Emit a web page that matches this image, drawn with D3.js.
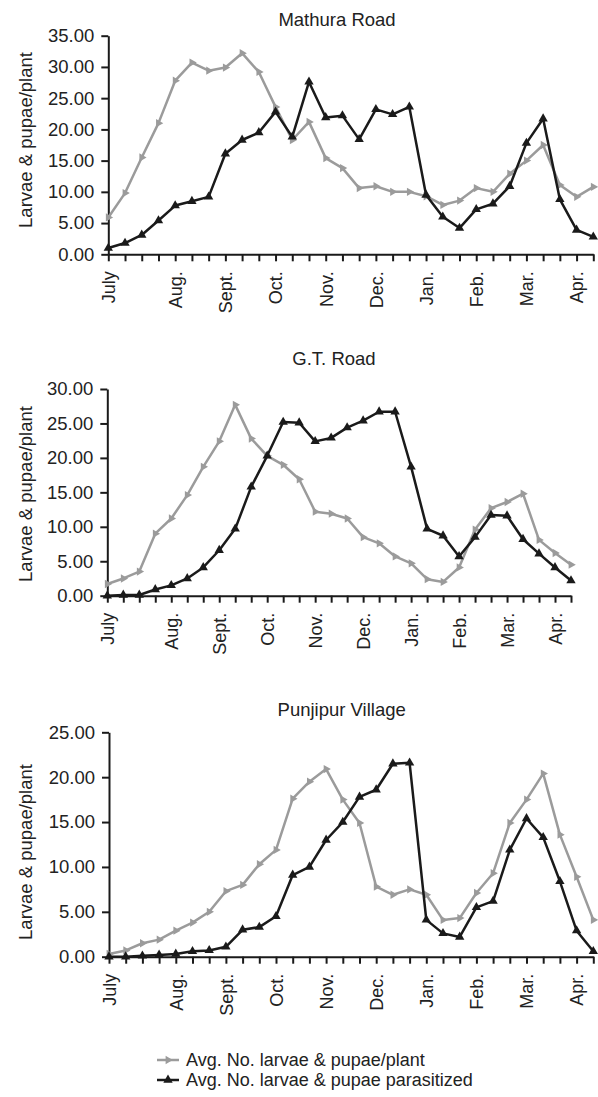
<!DOCTYPE html>
<html>
<head>
<meta charset="utf-8">
<script src="https://cdn.jsdelivr.net/npm/d3@7"></script>
<style>
    body { margin: 0; background: white; }
    text { font-family: "Liberation Sans", Arial, sans-serif; fill: #222; }
</style>
</head>
<body>
<div class="chart"></div>
<script>

// tick labels along the x axis (one per sampling date)
const tickLabels = ["July", "", "", "", "Aug.", "", "", "Sept.", "", "", "Oct.", "", "", "Nov.", "", "",
    "Dec.", "", "", "Jan.", "", "", "Feb.", "", "", "Mar.", "", "", "Apr.", ""];

const seriesNames = ["Avg. No. larvae & pupae/plant", "Avg. No. larvae & pupae parasitized"];

// Mathura Road
const mathuraTotal = [5.9, 9.8, 15.5, 21.0, 27.8, 30.7, 29.4, 29.9, 32.2, 29.2, 23.6, 18.3, 21.2, 15.4, 13.8,
    10.6, 10.9, 10.0, 10.0, 9.3, 7.9, 8.6, 10.6, 10.0, 12.9, 15.0, 17.5, 11.1, 9.2, 10.8];
const mathuraParasitized = [1.0, 1.8, 3.1, 5.4, 7.8, 8.5, 9.2, 16.1, 18.3, 19.5, 22.8, 18.8, 27.6, 21.9, 22.2,
    18.4, 23.2, 22.4, 23.6, 9.5, 6.0, 4.2, 7.2, 8.1, 10.9, 17.8, 21.7, 8.8, 3.9, 2.8];

// G.T. Road
const gtTotal = [1.7, 2.5, 3.5, 9.0, 11.2, 14.6, 18.7, 22.4, 27.7, 22.8, 20.3, 19.0, 16.9, 12.2, 11.9,
    11.2, 8.5, 7.6, 5.7, 4.7, 2.4, 2.0, 4.1, 9.6, 12.7, 13.6, 14.8, 8.1, 6.2, 4.5];
const gtParasitized = [0.0, 0.1, 0.1, 0.9, 1.5, 2.5, 4.1, 6.6, 9.7, 15.8, 20.3, 25.2, 25.1, 22.4, 22.9,
    24.4, 25.4, 26.7, 26.7, 18.7, 9.7, 8.7, 5.7, 8.5, 11.7, 11.6, 8.2, 6.1, 4.1, 2.2];

// Punjipur Village
const punjipurTotal = [0.3, 0.7, 1.5, 1.9, 2.9, 3.8, 5.0, 7.3, 8.0, 10.3, 11.9, 17.6, 19.5, 20.9, 17.5,
    14.9, 7.8, 6.9, 7.5, 6.9, 4.1, 4.3, 7.1, 9.3, 14.9, 17.5, 20.4, 13.6, 8.9, 4.1];
const punjipurParasitized = [0.0, 0.0, 0.1, 0.2, 0.3, 0.6, 0.7, 1.1, 3.0, 3.3, 4.5, 9.1, 10.0, 13.0, 15.0,
    17.8, 18.6, 21.5, 21.6, 4.1, 2.6, 2.2, 5.5, 6.2, 11.9, 15.4, 13.3, 8.4, 2.9, 0.6];

const yMaxes = [35, 30, 25];
const titles = ["Mathura Road", "G.T. Road", "Punjipur Village"];

// panel layouts (pixels)
const panels = [
    {title: titles[0], total: mathuraTotal, para: mathuraParasitized, yMax: yMaxes[0],
        left: 108.3, right: 593.3, top: 35.7, bottom: 254.3, titleX: 337, titleY: 26, labelY: 140},
    {title: titles[1], total: gtTotal, para: gtParasitized, yMax: yMaxes[1],
        left: 107.3, right: 571, top: 389, bottom: 595.7, titleX: 334, titleY: 365, labelY: 494},
    {title: titles[2], total: punjipurTotal, para: punjipurParasitized, yMax: yMaxes[2],
        left: 109, right: 593.3, top: 732.3, bottom: 956.7, titleX: 341.7, titleY: 716, labelY: 852}
];

const width = 598, height = 1097;
const grey = "#9b9b9b", dark = "#1a1a1a";

const svg = d3.select(".chart").append("svg")
    .attr("width", width)
    .attr("height", height);

const triUp = d3.symbol().type(d3.symbolTriangle).size(38);
const triRight = d3.symbol().type(d3.symbolTriangle).size(30);

panels.forEach(p => {

    const x = d3.scalePoint()
        .domain(d3.range(tickLabels.length))
        .range([p.left, p.right]);

    const y = d3.scaleLinear()
        .domain([0, p.yMax])
        .range([p.bottom, p.top]);

    const g = svg.append("g");

    // title!
    g.append("text")
        .attr("x", p.titleX)
        .attr("y", p.titleY)
        .attr("text-anchor", "middle")
        .style("font-size", "18.5px")
        .text(p.title);

    // y axis title
    g.append("text")
        .attr("transform", `translate(32, ${p.labelY}) rotate(-90)`)
        .attr("text-anchor", "middle")
        .style("font-size", "18.5px")
        .text("Larvae & pupae/plant");

    // y axis
    g.append("g")
        .attr("transform", `translate(${p.left}, 0)`)
        .call(d3.axisLeft(y)
            .tickValues(d3.range(0, p.yMax + 1, 5))
            .tickFormat(d3.format(".2f"))
            .tickSize(7)
            .tickPadding(7)
            .tickSizeOuter(0))
        .call(a => a.selectAll("text").style("font-size", "18.5px").attr("fill", "#222"))
        .call(a => a.selectAll("line, path").attr("stroke", dark).attr("stroke-width", 2));

    // x axis with rotated month labels
    g.append("g")
        .attr("transform", `translate(0, ${p.bottom})`)
        .call(d3.axisBottom(x)
            .tickFormat(i => tickLabels[i])
            .tickSize(7)
            .tickSizeOuter(0))
        .call(a => a.selectAll("line, path").attr("stroke", dark).attr("stroke-width", 2))
        .call(a => a.selectAll("text")
            .style("font-size", "18px")
            .attr("fill", "#222")
            .attr("transform", "rotate(-90)")
            .attr("x", -17)
            .attr("y", 0)
            .attr("dy", "0.35em")
            .attr("text-anchor", "end"));

    const line = d3.line()
        .x((d, i) => x(i))
        .y(d => y(d));

    // grey series first, black on top
    g.append("path")
        .datum(p.total)
        .attr("fill", "none")
        .attr("stroke", grey)
        .attr("stroke-width", 2.5)
        .attr("stroke-linejoin", "round")
        .attr("d", line);

    g.selectAll(".grey-mark")
        .data(p.total)
        .join("path")
        .attr("class", "grey-mark")
        .attr("fill", grey)
        .attr("d", triRight)
        .attr("transform", (d, i) => `translate(${x(i)}, ${y(d)}) rotate(90)`);

    g.append("path")
        .datum(p.para)
        .attr("fill", "none")
        .attr("stroke", dark)
        .attr("stroke-width", 2.5)
        .attr("stroke-linejoin", "round")
        .attr("d", line);

    g.selectAll(".dark-mark")
        .data(p.para)
        .join("path")
        .attr("class", "dark-mark")
        .attr("fill", dark)
        .attr("d", triUp)
        .attr("transform", (d, i) => `translate(${x(i)}, ${y(d)})`);
});

// legend
const legend = svg.append("g").attr("transform", "translate(157, 1060)");
const legendRows = [{name: seriesNames[0], color: grey, sym: triRight, rot: 90},
                    {name: seriesNames[1], color: dark, sym: triUp, rot: 0}];

legendRows.forEach((r, i) => {
    const row = legend.append("g").attr("transform", `translate(0, ${i * 20})`);
    row.append("line")
        .attr("x1", 0).attr("x2", 22)
        .attr("stroke", r.color)
        .attr("stroke-width", 2.5);
    row.append("path")
        .attr("d", r.sym)
        .attr("fill", r.color)
        .attr("transform", `translate(11, 0) rotate(${r.rot})`);
    row.append("text")
        .attr("x", 29)
        .attr("dy", "0.35em")
        .style("font-size", "18px")
        .text(r.name);
});

</script>
</body>
</html>
